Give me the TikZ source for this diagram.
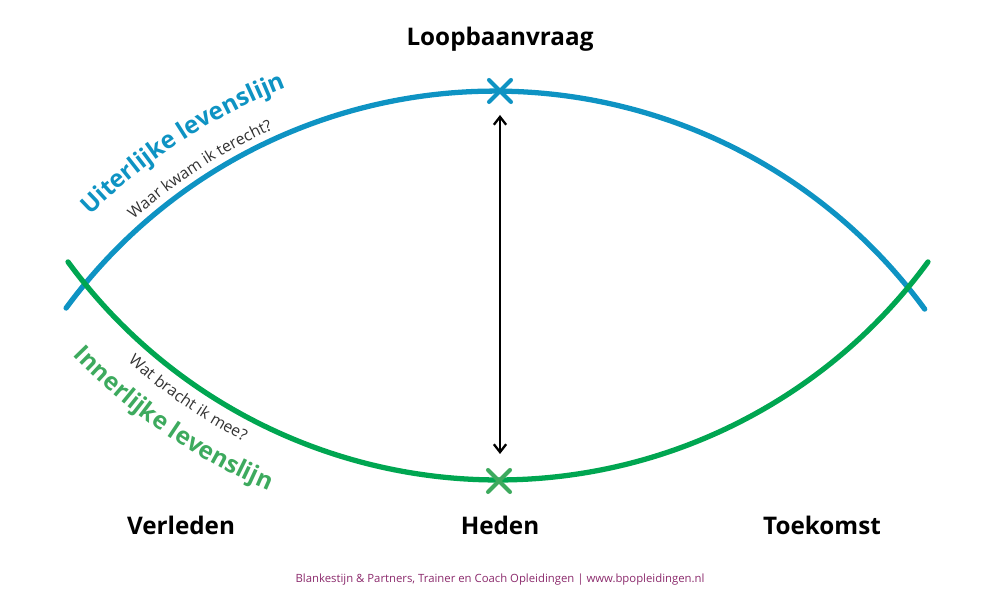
\documentclass[tikz,border=0pt]{standalone}
\usepackage{fontspec}
\setmainfont{Open Sans}
\usetikzlibrary{arrows.meta,decorations.text}
\definecolor{ublue}{HTML}{0E93C3}
\definecolor{igreen}{HTML}{00A651}
\definecolor{igreenx}{HTML}{3DAA5E}
\definecolor{footc}{HTML}{8B2A6C}
\definecolor{subc}{HTML}{333333}
\tikzset{
  head/.style={font=\bfseries\fontsize{13.8}{16}\selectfont, text=black, anchor=base, inner sep=0pt},
  lifeline/.style={line width=3pt, line cap=round},
  xmark/.style={line width=2.3pt, line cap=round},
}
\begin{document}
\begin{tikzpicture}[x=0.02cm,y=0.02cm]
\useasboundingbox (0,0) rectangle (1000,590);
\coordinate (cb) at (495,-33.6);
\coordinate (cg) at (498,643);
% lines
\draw[lifeline, ublue] ([shift={(143.66:10.652cm)}]cb) arc[start angle=143.66, end angle=36.2, radius=10.652cm];
\draw[lifeline, igreen] ([shift={(216.22:10.662cm)}]cg) arc[start angle=216.22, end angle=323.78, radius=10.662cm];
% X marks
\coordinate (xb) at (500,499);
\coordinate (xg) at (499,109);
\draw[xmark, ublue] ([shift={(-11,-11)}]xb) -- ([shift={(11,11)}]xb) ([shift={(-11,11)}]xb) -- ([shift={(11,-11)}]xb);
\draw[xmark, igreenx] ([shift={(-11,-11)}]xg) -- ([shift={(11,11)}]xg) ([shift={(-11,11)}]xg) -- ([shift={(11,-11)}]xg);
% arrow
\coordinate (at) at (500,475);
\coordinate (ab) at (500,136);
\draw[line width=1.3pt, {Straight Barb[length=4.5pt,width=7pt]}-{Straight Barb[length=4.5pt,width=7pt]}] (at) -- (ab);
% curved labels
\path[decorate, decoration={text along path, text align=center, text color=ublue,
  text={|\bfseries\fontsize{13.8}{16}\selectfont|Uiterlijke levenslijn}}]
  ([shift={(143:11.5cm)}]cb) arc[start angle=143, end angle=103, radius=11.5cm];
\path[decorate, decoration={text along path, text align=center, text color=subc,
  text={|\fontsize{9}{11}\selectfont|Waar kwam ik terecht?}}]
  ([shift={(143:10.84cm)}]cb) arc[start angle=143, end angle=103, radius=10.84cm];
\path[decorate, decoration={text along path, text align=center, text color=igreenx,
  text={|\bfseries\fontsize{13.8}{16}\selectfont|Innerlijke levenslijn}}]
  ([shift={(215.5:11.8cm)}]cg) arc[start angle=215.5, end angle=255.5, radius=11.8cm];
\path[decorate, decoration={text along path, text align=center, text color=subc,
  text={|\fontsize{9}{11}\selectfont|Wat bracht ik mee?}}]
  ([shift={(215.5:11.12cm)}]cg) arc[start angle=215.5, end angle=255.5, radius=11.12cm];
% labels
\node[head] (lv) at (500,544.3) {Loopbaanvraag};
\node[head] (vl) at (181,55.7) {Verleden};
\node[head] (hd) at (500,55.7) {Heden};
\node[head] (tk) at (822,55.7) {Toekomst};
\node[anchor=base, inner sep=0pt, text=footc, font=\fontsize{6.45}{8}\selectfont] (ft) at (500,7.5) {Blankestijn \& Partners, Trainer en Coach Opleidingen | www.bpopleidingen.nl};
\end{tikzpicture}
\end{document}
